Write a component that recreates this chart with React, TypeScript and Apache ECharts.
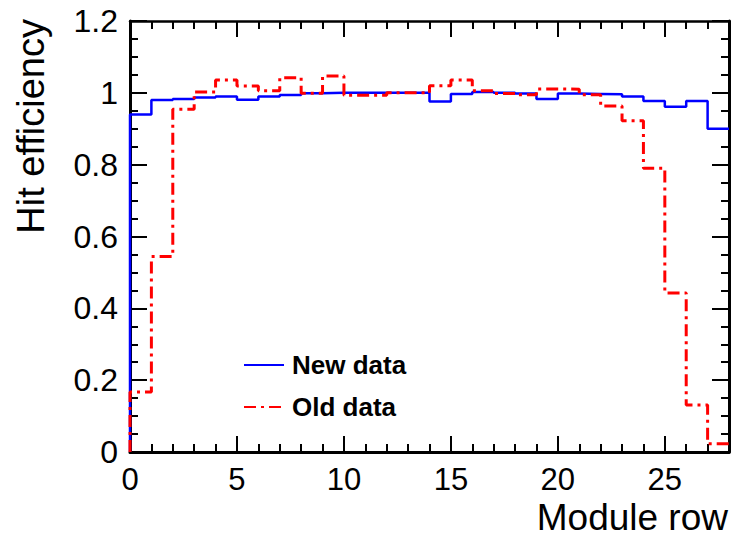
import React, { useEffect, useRef } from "react";
import * as echarts from "echarts";

// Bin edges 0..28 (module rows), one value per bin
const binEdges: number[] = Array.from({ length: 29 }, (_, i) => i);
const newData: number[] = [
  0.94, 0.98, 0.983, 0.987, 0.99, 0.981, 0.99, 0.994, 0.999, 1.0, 1.0, 1.0, 1.0, 1.0,
  0.976, 0.997, 1.002, 1.0, 0.998, 0.983, 0.998, 0.997, 0.996, 0.99, 0.977, 0.961, 0.977, 0.9,
];
const oldData: number[] = [
  0.167, 0.544, 0.954, 1.002, 1.036, 1.019, 1.006, 1.042, 0.999, 1.047, 0.993, 0.993, 1.0, 1.0,
  1.02, 1.036, 1.006, 0.998, 0.995, 1.011, 1.01, 0.995, 0.963, 0.922, 0.79, 0.443, 0.131, 0.023,
];
const seriesNames: string[] = ["New data", "Old data"];
const xTitle = "Module row";
const yTitle = "Hit efficiency";

function histToSteps(vals: number[]): number[][] {
  const pts: number[][] = [[binEdges[0], 0]];
  vals.forEach((v, i) => pts.push([binEdges[i], v]));
  pts.push([binEdges[vals.length], vals[vals.length - 1]]);
  return pts;
}

const FONT = "'Liberation Sans', Arial, Helvetica, sans-serif";

export default function App() {
  const ref = useRef<HTMLDivElement>(null);
  useEffect(() => {
    if (!ref.current) return;
    const chart = echarts.init(ref.current, undefined, { renderer: "svg" });
    const gridPos = { left: 130, right: 3, top: 21, bottom: 87 };
    const tickLabel = { fontFamily: FONT, fontSize: 31, color: "#000", lineHeight: 26 };
    const tickStyle = { color: "#000", width: 2 };
    chart.setOption({
      animation: false,
      backgroundColor: "#fff",
      grid: [
        { ...gridPos, containLabel: false },
        { ...gridPos, containLabel: false },
      ],
      legend: {
        orient: "vertical",
        left: 238,
        top: 346,
        itemWidth: 40,
        itemHeight: 14,
        itemGap: 14,
        data: seriesNames,
        itemStyle: { opacity: 0, borderWidth: 0 },
        textStyle: {
          fontFamily: FONT,
          fontSize: 26,
          fontWeight: "bold",
          color: "#000",
          lineHeight: 28,
          padding: [0, 0, 0, 3],
        },
      },
      xAxis: [
        {
          gridIndex: 0,
          type: "value",
          position: "bottom",
          min: 0,
          max: 28,
          interval: 5,
          axisLine: { show: true, onZero: false, lineStyle: { color: "#000", width: 3 } },
          axisTick: { show: true, inside: true, length: 16, lineStyle: tickStyle },
          axisLabel: { ...tickLabel, margin: 14, showMaxLabel: false },
          splitLine: { show: false },
        },
        {
          gridIndex: 0,
          type: "value",
          position: "top",
          min: 0,
          max: 28,
          interval: 5,
          axisLine: { show: true, onZero: false, lineStyle: { color: "#000", width: 2.5 } },
          axisTick: { show: true, inside: true, length: 16, lineStyle: tickStyle },
          axisLabel: { show: false },
          splitLine: { show: false },
        },
        {
          gridIndex: 1,
          type: "value",
          position: "bottom",
          min: 0,
          max: 28,
          interval: 1,
          axisLine: { show: false, onZero: false },
          axisTick: { show: true, inside: true, length: 8, lineStyle: tickStyle },
          axisLabel: { show: false },
          splitLine: { show: false },
        },
        {
          gridIndex: 1,
          type: "value",
          position: "top",
          min: 0,
          max: 28,
          interval: 1,
          axisLine: { show: false, onZero: false },
          axisTick: { show: true, inside: true, length: 8, lineStyle: tickStyle },
          axisLabel: { show: false },
          splitLine: { show: false },
        },
      ],
      yAxis: [
        {
          gridIndex: 0,
          type: "value",
          position: "left",
          min: 0,
          max: 1.2,
          interval: 0.2,
          axisLine: { show: true, onZero: false, lineStyle: { color: "#000", width: 3 } },
          axisTick: { show: true, inside: true, length: 17, lineStyle: tickStyle },
          minorTick: { show: true, splitNumber: 4, length: 8, lineStyle: tickStyle },
          axisLabel: { ...tickLabel, fontSize: 32, margin: 12, formatter: (v: number) => String(+v.toFixed(1)) },
          splitLine: { show: false },
        },
        {
          gridIndex: 0,
          type: "value",
          position: "right",
          min: 0,
          max: 1.2,
          interval: 0.2,
          axisLine: { show: true, onZero: false, lineStyle: { color: "#000", width: 3 } },
          axisTick: { show: true, inside: true, length: 17, lineStyle: tickStyle },
          minorTick: { show: true, splitNumber: 4, length: 8, lineStyle: tickStyle },
          axisLabel: { show: false },
          splitLine: { show: false },
        },
        {
          gridIndex: 1,
          type: "value",
          min: 0,
          max: 1.2,
          show: false,
        },
      ],
      series: [
        {
          name: seriesNames[0],
          type: "line",
          xAxisIndex: 0,
          yAxisIndex: 0,
          step: "end",
          symbol: "none",
          color: "#0000ff",
          lineStyle: { color: "#0000ff", width: 2.5 },
          data: histToSteps(newData),
          z: 3,
        },
        {
          name: seriesNames[1],
          type: "line",
          xAxisIndex: 0,
          yAxisIndex: 0,
          step: "end",
          symbol: "none",
          color: "#ff0000",
          lineStyle: { color: "#ff0000", width: 3, type: [12, 5, 3, 5] },
          data: histToSteps(oldData),
          z: 4,
        },
      ],
      graphic: [
        {
          type: "text",
          x: 728,
          y: 532,
          style: {
            text: xTitle,
            font: `37px ${FONT}`,
            lineHeight: 30,
            fill: "#000",
            align: "right",
            verticalAlign: "bottom",
          },
        },
        {
          type: "text",
          x: 31,
          y: 19,
          rotation: Math.PI / 2,
          style: { text: yTitle, font: `38px ${FONT}`, fill: "#000", align: "right", verticalAlign: "middle" },
        },
      ],
    });
    return () => chart.dispose();
  }, []);
  return <div ref={ref} style={{ width: 732, height: 539, position: "absolute", left: 0, top: 0 }} />;
}
